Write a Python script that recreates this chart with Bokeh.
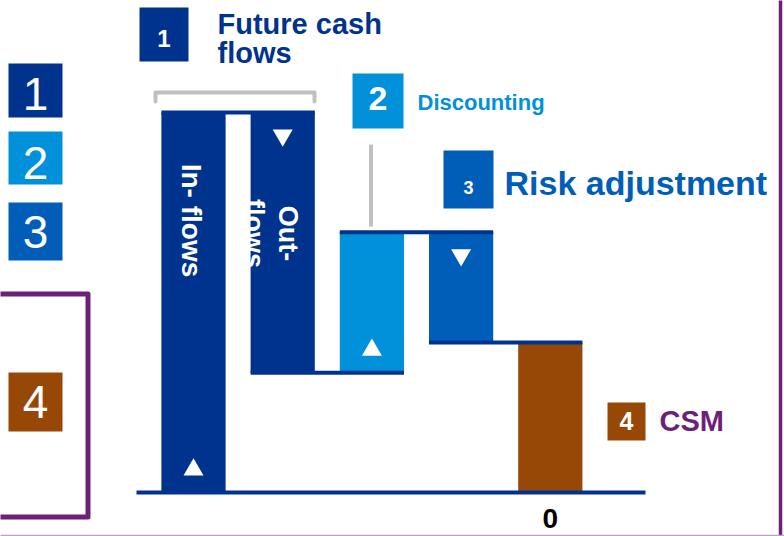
import numpy as np
from bokeh.plotting import figure
from bokeh.models import Range1d
from bokeh.core.properties import value
from bokeh.embed import file_html
from bokeh.resources import INLINE

# ---------------- data ----------------
categories = ["In-flows", "Out-flows", "Discounting", "Risk adjustment", "CSM"]
changes = [100, -68.5, 37, -29, -39.5]
bar_colors = ["#00338D", "#00338D", "#0091DA", "#005EB8", "#974806"]
bar_texts = ["In- flows", "Out-", "flows"]

legend_numbers = ["1", "2", "3", "4"]
legend_colors = ["#00338D", "#0091DA", "#005EB8", "#974806"]

step_titles = ["Future cash", "flows", "Discounting", "Risk adjustment", "CSM"]

NAVY = "#00338D"
PURPLE = "#6D2077"
GREY = "#C0C0C0"
FONT = value("Liberation Sans")

# ---------------- geometry (pixel mapping) ----------------
W, H = 784, 536
PX_PER_CAT = 89.2
X0_PX = 193.0        # px of category 0
PX_PER_UNIT = 3.8
BASE_PX = 492.0      # px (from top) of value 0

x_start = -X0_PX / PX_PER_CAT
x_end = x_start + W / PX_PER_CAT
y_end = BASE_PX / PX_PER_UNIT
y_start = -(H - BASE_PX) / PX_PER_UNIT


def sx(px):
    return x_start + px / PX_PER_CAT


def sy(py):
    return (BASE_PX - py) / PX_PER_UNIT


p = figure(width=W, height=H, x_range=Range1d(x_start, x_end),
           y_range=Range1d(y_start, y_end), output_backend="svg",
           toolbar_location=None, x_axis_location=None, y_axis_location=None,
           min_border=0)
p.min_border_left = p.min_border_right = p.min_border_top = p.min_border_bottom = 0
p.xgrid.grid_line_color = None
p.ygrid.grid_line_color = None
p.outline_line_color = None
p.background_fill_color = "white"
p.border_fill_color = "white"

# ---------------- waterfall ----------------
idx = np.arange(len(changes), dtype=float)
ch = np.array(changes, dtype=float)
ends = np.cumsum(ch)
starts = ends - ch
bottoms = np.minimum(starts, ends)
tops = np.maximum(starts, ends)
BW = 0.72

p.vbar(x=idx, bottom=bottoms, top=tops, width=BW, fill_color=bar_colors,
       line_color=None)

# connectors
for i in range(len(changes) - 1):
    p.line([idx[i] - BW / 2, idx[i + 1] + BW / 2], [ends[i], ends[i]],
           line_color=NAVY, line_width=4)

# baseline
p.line([sx(136), sx(645)], [0, 0], line_color=NAVY, line_width=4)

# direction triangles
up_x, up_y, dn_x, dn_y = [], [], [], []
for i in range(len(changes) - 1):
    if ch[i] > 0:
        up_x.append(idx[i]); up_y.append(bottoms[i] + 6)
    else:
        dn_x.append(idx[i]); dn_y.append(tops[i] - 6)
p.scatter(up_x, up_y, marker="triangle", size=20, fill_color="white", line_color=None)
p.scatter(dn_x, dn_y, marker="inverted_triangle", size=20, fill_color="white", line_color=None)

# in-bar rotated texts
p.text(x=[sx(191)], y=[sy(220)], text=[bar_texts[0]], angle=-np.pi / 2,
       text_font=FONT, text_font_style="bold", text_font_size=value("28px"),
       text_color="white", text_align="center", text_baseline="middle")
p.text(x=[sx(287), sx(253)], y=[sy(233), sy(233)], text=bar_texts[1:3], angle=-np.pi / 2,
       text_font=FONT, text_font_style="bold", text_font_size=value("27px"),
       text_color="white", text_align="center", text_baseline="middle")

# result label
p.text(x=[idx[-1]], y=[sy(518)], text=[f"{ends[-1]:.0f}"], text_font=FONT,
       text_font_style="bold", text_font_size=value("28px"), text_color="black",
       text_align="center", text_baseline="middle")

# ---------------- decorations ----------------
# grey bracket over cash flows
p.line([sx(155), sx(155), sx(314), sx(314)], [sy(101), sy(92), sy(92), sy(101)],
       line_color=GREY, line_width=4, line_join="round", line_cap="round")
# grey stem under discounting box
p.line([sx(370.5), sx(370.5)], [sy(144), sy(226)], line_color=GREY, line_width=4)

# left purple bracket
p.line([sx(-5), sx(87.5), sx(87.5), sx(-5)], [sy(293.5), sy(293.5), sy(516.5), sy(516.5)],
       line_color=PURPLE, line_width=5, line_join="round")
# right purple rule and bottom thin rule
p.line([sx(780), sx(780)], [sy(-5), sy(545)], line_color=PURPLE, line_width=3.5)
p.line([sx(-5), sx(790)], [sy(535), sy(535)], line_color="#BBA3C6", line_width=1.5)

# left legend boxes
lb_top = [63, 131, 202, 372]
lb_bot = [117, 184, 260, 431]
lb_mid = [93, 162, 231, 401.5]
p.quad(left=[sx(8)] * 4, right=[sx(62)] * 4, top=[sy(t) for t in lb_top],
       bottom=[sy(b) for b in lb_bot], fill_color=legend_colors, line_color=None)
p.text(x=[sx(35)] * 4, y=[sy(m) for m in lb_mid], text=legend_numbers, text_font=FONT,
       text_font_size=value("46px"), text_color="white", text_align="center",
       text_baseline="middle")

# small numbered boxes by the step titles
bx_l = [139, 352, 443, 607]
bx_r = [188, 403, 493, 645]
bx_t = [7, 73, 150, 402]
bx_b = [61, 128, 208, 440]
p.quad(left=[sx(v) for v in bx_l], right=[sx(v) for v in bx_r],
       top=[sy(v) for v in bx_t], bottom=[sy(v) for v in bx_b],
       fill_color=legend_colors, line_color=None)
num_sizes = ["24px", "34px", "18px", "25px"]
num_mid = [37.5, 98, 186.5, 420.5]
for k in range(4):
    p.text(x=[sx((bx_l[k] + bx_r[k]) / 2)], y=[sy(num_mid[k])], text=[legend_numbers[k]],
           text_font=FONT, text_font_style="bold", text_font_size=value(num_sizes[k]),
           text_color="white", text_align="center", text_baseline="middle")

# step titles
title_x = [217, 217, 417, 504, 659]
title_mid = [23.5, 52.5, 102, 182.5, 420]
title_sizes = ["29px", "29px", "22px", "34px", "29px"]
title_colors = [NAVY, NAVY, "#0091DA", "#005EB8", PURPLE]
for k in range(5):
    p.text(x=[sx(title_x[k])], y=[sy(title_mid[k])], text=[step_titles[k]],
           text_font=FONT, text_font_style="bold", text_font_size=value(title_sizes[k]),
           text_color=title_colors[k], text_align="left", text_baseline="middle")

open("out.html", "w").write(file_html(p, INLINE))
